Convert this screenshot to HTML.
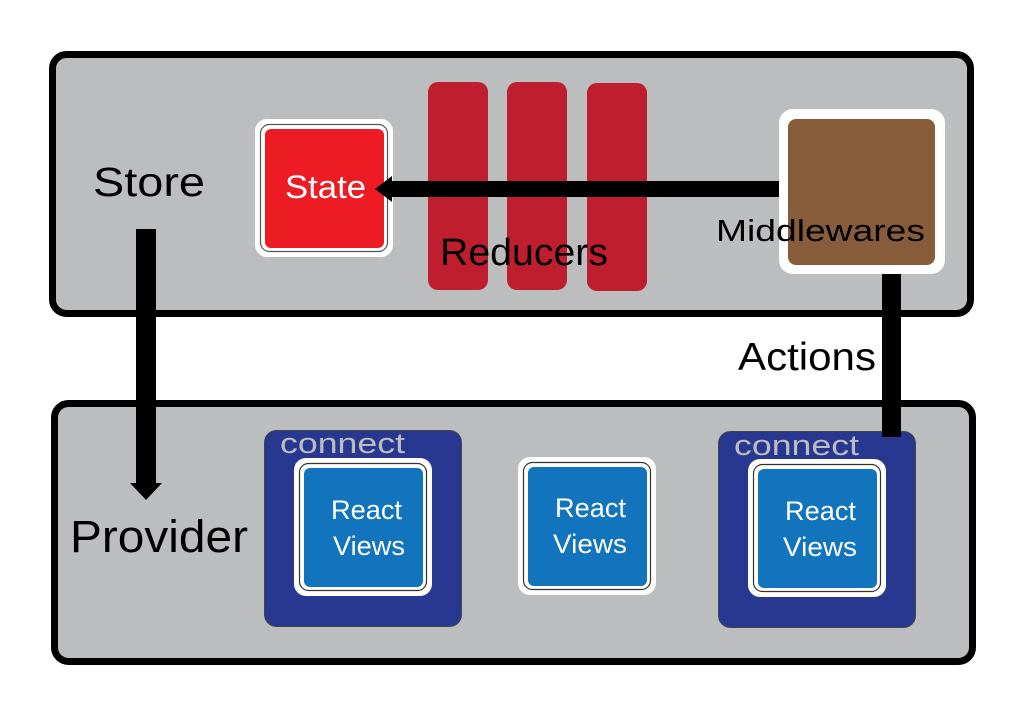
<!DOCTYPE html>
<html><head><meta charset="utf-8"><style>
html,body{margin:0;padding:0;background:#fff;width:1024px;height:728px;overflow:hidden}
text{font-family:"Liberation Sans",sans-serif}
</style></head><body>
<svg width="1024" height="728" viewBox="0 0 1024 728" xmlns="http://www.w3.org/2000/svg">
<rect width="1024" height="728" fill="#fff"/>
<rect x="52.5" y="54.5" width="918" height="259" rx="14" fill="#bcbdbf" stroke="#000" stroke-width="7"/>
<rect x="54.5" y="403.5" width="918" height="258" rx="14" fill="#bcbdbf" stroke="#000" stroke-width="7"/>
<rect x="428" y="82" width="60" height="208" rx="10" fill="#be1e2d"/>
<rect x="507" y="82" width="60" height="208" rx="10" fill="#be1e2d"/>
<rect x="587" y="83" width="60" height="208" rx="10" fill="#be1e2d"/>
<rect x="255" y="119" width="138" height="138" rx="12" fill="#fff"/>
<rect x="260.5" y="124.5" width="127" height="127" rx="9" fill="none" stroke="#555" stroke-width="1.2"/>
<rect x="265" y="129" width="119" height="119" rx="6" fill="#ed1c24"/>
<text x="285" y="198" font-size="32" fill="#fff" textLength="81" lengthAdjust="spacingAndGlyphs">State</text>
<rect x="390" y="181" width="392" height="16" fill="#000"/>
<polygon points="375,189 392,176 392,202" fill="#000"/>
<text x="440" y="265" font-size="38" fill="#000" textLength="168" lengthAdjust="spacingAndGlyphs">Reducers</text>
<rect x="779" y="109" width="166" height="165" rx="14" fill="#fff"/>
<rect x="788" y="119" width="147" height="146" rx="8" fill="#875c3b"/>
<text x="716" y="241" font-size="31" fill="#000" textLength="209" lengthAdjust="spacingAndGlyphs">Middlewares</text>
<rect x="882" y="274" width="19" height="163" fill="#000"/>
<text x="738" y="370" font-size="39" fill="#000" textLength="138" lengthAdjust="spacingAndGlyphs">Actions</text>
<text x="93" y="196" font-size="41" fill="#000" textLength="112" lengthAdjust="spacingAndGlyphs">Store</text>
<rect x="136" y="229" width="20" height="255" fill="#000"/>
<polygon points="130,483 162,483 146,500" fill="#000"/>
<text x="70" y="552" font-size="45" fill="#000" textLength="178" lengthAdjust="spacingAndGlyphs">Provider</text>
<rect x="264.5" y="430.5" width="197" height="196" rx="12" fill="#283891" stroke="#444" stroke-width="1"/>
<text x="280" y="453" font-size="29" fill="#bcbdbf" textLength="125" lengthAdjust="spacingAndGlyphs">connect</text>
<rect x="294" y="458" width="138" height="138" rx="12" fill="#fff"/>
<rect x="299.5" y="463.5" width="127" height="127" rx="9" fill="none" stroke="#333" stroke-width="1.2"/>
<rect x="304" y="468" width="119" height="119" rx="6" fill="#1174bc"/>
<text x="331" y="519" font-size="27" fill="#fff" textLength="71" lengthAdjust="spacingAndGlyphs">React</text>
<text x="333" y="555" font-size="27" fill="#fff" textLength="72" lengthAdjust="spacingAndGlyphs">Views</text>
<rect x="518" y="457" width="138" height="138" rx="12" fill="#fff"/>
<rect x="523.5" y="462.5" width="127" height="127" rx="9" fill="none" stroke="#333" stroke-width="1.2"/>
<rect x="528" y="467" width="119" height="119" rx="6" fill="#1174bc"/>
<text x="555" y="517" font-size="27" fill="#fff" textLength="71" lengthAdjust="spacingAndGlyphs">React</text>
<text x="553" y="553" font-size="27" fill="#fff" textLength="74" lengthAdjust="spacingAndGlyphs">Views</text>
<rect x="718.5" y="431.5" width="197" height="196" rx="12" fill="#283891" stroke="#444" stroke-width="1"/>
<rect x="882" y="420" width="19" height="17" fill="#000"/>
<text x="734" y="455" font-size="29" fill="#bcbdbf" textLength="125" lengthAdjust="spacingAndGlyphs">connect</text>
<rect x="748" y="459" width="138" height="138" rx="12" fill="#fff"/>
<rect x="753.5" y="464.5" width="127" height="127" rx="9" fill="none" stroke="#333" stroke-width="1.2"/>
<rect x="758" y="469" width="119" height="119" rx="6" fill="#1174bc"/>
<text x="785" y="520" font-size="27" fill="#fff" textLength="71" lengthAdjust="spacingAndGlyphs">React</text>
<text x="783" y="556" font-size="27" fill="#fff" textLength="74" lengthAdjust="spacingAndGlyphs">Views</text>
</svg>
</body></html>
